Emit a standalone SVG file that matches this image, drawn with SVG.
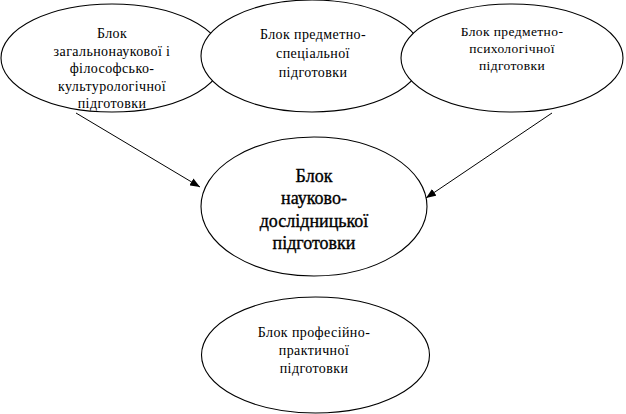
<svg xmlns="http://www.w3.org/2000/svg" width="626" height="414" viewBox="0 0 626 414">
<style>
.e{fill:#fff;stroke:#000;stroke-width:1.1}
.t{font-family:"Liberation Serif","Times New Roman",serif;fill:#000;text-anchor:middle}
.s14{font-size:14px;letter-spacing:0.4px}
.s13{font-size:13.5px;letter-spacing:0.4px}
.big{font-size:18px;stroke:#000;stroke-width:0.35px}
.c{stroke:#000;stroke-width:1;fill:none}
</style>
<defs>
<marker id="ah" viewBox="0 0 10 8" refX="10" refY="4" markerWidth="10" markerHeight="8" markerUnits="userSpaceOnUse" orient="auto">
<path d="M0,0 L10,4 L0,8 Z" fill="#000"/>
</marker>
</defs>
<rect width="626" height="414" fill="#fff"/>
<g id="n1">
<ellipse class="e" cx="112" cy="58" rx="111" ry="54"/>
<text class="t s14"><tspan x="112" y="38">Блок</tspan><tspan x="112" y="55.5">загальнонаукової і</tspan><tspan x="112" y="73">філософсько-</tspan><tspan x="112" y="90.5">культурологічної</tspan><tspan x="112" y="108">підготовки</tspan></text>
</g>
<g id="n2">
<ellipse class="e" cx="312" cy="56" rx="111" ry="56"/>
<text class="t s14"><tspan x="313" y="39">Блок предметно-</tspan><tspan x="313" y="58">спеціальної</tspan><tspan x="313" y="77">підготовки</tspan></text>
</g>
<g id="n3">
<ellipse class="e" cx="512" cy="58" rx="111" ry="54"/>
<text class="t s13"><tspan x="512" y="36">Блок предметно-</tspan><tspan x="512" y="53">психологічної</tspan><tspan x="512" y="70">підготовки</tspan></text>
</g>
<g id="n4">
<ellipse class="e" cx="314" cy="206.5" rx="113" ry="69.5"/>
<text class="t big"><tspan x="314" y="182">Блок</tspan><tspan x="314" y="204">науково-</tspan><tspan x="314" y="227">дослідницької</tspan><tspan x="314" y="249">підготовки</tspan></text>
</g>
<g id="n5">
<ellipse class="e" cx="315.5" cy="355" rx="114" ry="58"/>
<text class="t s14"><tspan x="314" y="337">Блок професійно-</tspan><tspan x="314" y="355">практичної</tspan><tspan x="314" y="373">підготовки</tspan></text>
</g>
<g id="connectors">
<line class="c" x1="76" y1="113" x2="200" y2="187" marker-end="url(#ah)"/>
<line class="c" x1="552" y1="113" x2="426" y2="198" marker-end="url(#ah)"/>
</g>
</svg>
